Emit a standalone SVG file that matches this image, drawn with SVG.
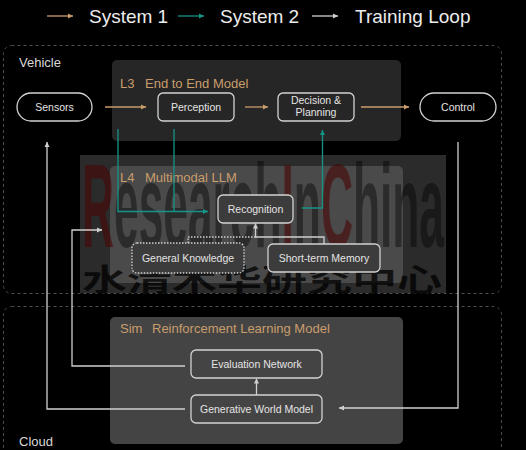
<svg xmlns="http://www.w3.org/2000/svg" width="526" height="450" viewBox="0 0 526 450">
<defs>
<style>
.lg{font-family:"Liberation Sans",Arial,sans-serif;font-size:19px;fill:#ececec}
.zone{fill:none;stroke:#4d4d4d;stroke-width:1;stroke-dasharray:3 3}
.zl{font-family:"Liberation Sans",Arial,sans-serif;font-size:13px;fill:#d8d8d8}
.pt{font-family:"Liberation Sans",Arial,sans-serif;font-size:13px;fill:#c99d6c}
.nb{fill:#262626;stroke:#d2d2d2;stroke-width:1.3}
.nl4{fill:#3c3c3c;stroke:#d2d2d2;stroke-width:1.3}
.nt{font-family:"Liberation Sans",Arial,sans-serif;font-size:10.5px;fill:#e4e4e4;text-anchor:middle}
.o{fill:none;stroke:#c99d6c;stroke-width:1.3}
.t{fill:none;stroke:#159488;stroke-width:1.3}
.w{fill:none;stroke:#cfcfcf;stroke-width:1.3}
</style>
<marker id="ao" markerUnits="userSpaceOnUse" markerWidth="6" markerHeight="6" refX="5" refY="3" orient="auto"><path d="M0,0.5 L5,3 L0,5.5 z" fill="#c99d6c"/></marker>
<marker id="at" markerUnits="userSpaceOnUse" markerWidth="6" markerHeight="6" refX="5" refY="3" orient="auto"><path d="M0,0.5 L5,3 L0,5.5 z" fill="#159488"/></marker>
<marker id="aw" markerUnits="userSpaceOnUse" markerWidth="6" markerHeight="6" refX="5" refY="3" orient="auto"><path d="M0,0.5 L5,3 L0,5.5 z" fill="#cfcfcf"/></marker>
</defs>
<rect width="526" height="450" fill="#000"/>

<g id="legend">
<line x1="47" y1="16" x2="73" y2="16" class="o" marker-end="url(#ao)"/>
<text x="89" y="23" class="lg">System 1</text>
<line x1="178" y1="16" x2="204" y2="16" class="t" marker-end="url(#at)"/>
<text x="220" y="23" class="lg">System 2</text>
<line x1="312" y1="16" x2="338" y2="16" class="w" marker-end="url(#aw)"/>
<text x="355" y="23" class="lg">Training Loop</text>
</g>

<g id="vehicle-zone">
<rect x="3.5" y="45.5" width="498" height="248" rx="8" class="zone"/>
<text x="19" y="67" class="zl">Vehicle</text>
</g>
<g id="cloud-zone">
<rect x="3.5" y="306.5" width="498" height="170" rx="8" class="zone"/>
<text x="19" y="446" class="zl">Cloud</text>
</g>

<g id="panel-l3">
<rect x="112" y="60" width="289" height="81" rx="5" fill="#262626"/>
<text x="120" y="88" class="pt">L3</text>
<text x="145" y="88" class="pt">End to End Model</text>
</g>
<g id="panel-l4">
<rect x="110" y="166" width="293" height="117" rx="5" fill="#262626"/>
</g>
<g id="panel-sim">
<rect x="110" y="317" width="293" height="127" rx="5" fill="#444"/>
<text x="120" y="333" class="pt">Sim</text>
<text x="152" y="333" class="pt">Reinforcement Learning Model</text>
</g>

<g id="watermark">
<rect x="80" y="155" width="366" height="138" fill="#fff" fill-opacity="0.17"/>
<text x="82" y="247" font-family="Liberation Sans,Arial,sans-serif" font-weight="bold" font-size="118" textLength="362" lengthAdjust="spacingAndGlyphs" fill-opacity="0.42"><tspan fill="#4a0505" fill-opacity="0.6">R</tspan><tspan fill="#000">esearch</tspan><tspan fill="#4a0505" fill-opacity="0.6">I</tspan><tspan fill="#000">n</tspan><tspan fill="#4a0505" fill-opacity="0.6">C</tspan><tspan fill="#000">hina</tspan></text>
<text x="82" y="291" font-family="Noto Sans CJK SC,sans-serif" font-weight="bold" font-size="31" textLength="360" lengthAdjust="spacingAndGlyphs" fill="#000" fill-opacity="0.75">水清木华研究中心</text>
</g>

<g id="panel-l4-title">
<text x="120" y="182" class="pt">L4</text>
<text x="145" y="182" class="pt">Multimodal LLM</text>
</g>

<g id="connectors">
<path d="M105,107 H146" class="o" marker-end="url(#ao)"/>
<path d="M245,107 H268" class="o" marker-end="url(#ao)"/>
<path d="M361,107 H409" class="o" marker-end="url(#ao)"/>
<path d="M118,129 V211.5 H208" class="t" marker-end="url(#at)"/>
<path d="M174,129 V211.5" class="t"/>
<path d="M302,208 H322.5 V130" class="t" marker-end="url(#at)"/>
<path d="M188,243 V237 H255.5" fill="none" stroke="#cfcfcf" stroke-width="1.3" stroke-dasharray="1.5 1.5"/>
<path d="M324,244 V237 H255.5 V223.5" class="w" marker-end="url(#aw)"/>
<path d="M458,142 V408 H339" class="w" marker-end="url(#aw)"/>
<path d="M185,409 H47 V142" class="w" marker-end="url(#aw)"/>
<path d="M185,366 H72 V230 H102" class="w" marker-end="url(#aw)"/>
<path d="M256.5,395 V378.5" class="w" marker-end="url(#aw)"/>
</g>

<g id="sensors">
<rect x="17" y="93" width="75" height="28" rx="14" fill="#000" stroke="#d2d2d2" stroke-width="1.3"/>
<text x="54.5" y="111" class="nt">Sensors</text>
</g>
<g id="perception">
<rect x="158" y="93" width="76" height="28" rx="5" class="nb"/>
<text x="196" y="111" class="nt">Perception</text>
</g>
<g id="decision-planning">
<rect x="278" y="93" width="76" height="28" rx="5" class="nb"/>
<text x="316" y="104" class="nt">Decision &amp;</text>
<text x="316" y="116" class="nt">Planning</text>
</g>
<g id="control">
<rect x="420" y="93" width="76" height="28" rx="14" fill="#000" stroke="#d2d2d2" stroke-width="1.3"/>
<text x="458" y="111" class="nt">Control</text>
</g>
<g id="recognition">
<rect x="218" y="195" width="75" height="28" rx="5" class="nl4"/>
<text x="255.5" y="213" class="nt">Recognition</text>
</g>
<g id="general-knowledge">
<rect x="132" y="243" width="112" height="30" rx="5" fill="#3c3c3c" stroke="#d2d2d2" stroke-width="1.3" stroke-dasharray="1.5 1.5"/>
<text x="188" y="262" class="nt">General Knowledge</text>
</g>
<g id="short-term-memory">
<rect x="268" y="244" width="112" height="28" rx="5" class="nl4"/>
<text x="324" y="262" class="nt">Short-term Memory</text>
</g>
<g id="evaluation-network">
<rect x="191" y="350" width="131" height="28" rx="5" fill="#444" stroke="#d2d2d2" stroke-width="1.3"/>
<text x="256.5" y="368" class="nt">Evaluation Network</text>
</g>
<g id="generative-world-model">
<rect x="191" y="395" width="131" height="28" rx="5" fill="#444" stroke="#d2d2d2" stroke-width="1.3"/>
<text x="256.5" y="413" class="nt">Generative World Model</text>
</g>
</svg>
